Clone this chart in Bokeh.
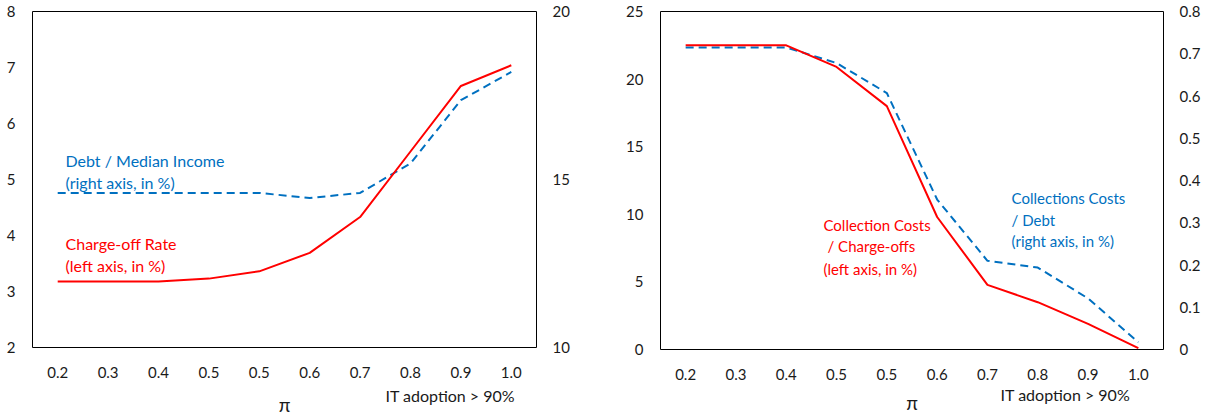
from bokeh.plotting import figure
from bokeh.layouts import row
from bokeh.models import Range1d, LinearAxis, FixedTicker, Label
from bokeh.embed import file_html
from bokeh.resources import INLINE

# ---------------- data ----------------
x_labels = ["0.2", "0.3", "0.4", "0.5", "0.5", "0.6", "0.7", "0.8", "0.9", "1.0"]

# left panel
charge_off_rate = [3.18, 3.18, 3.18, 3.23, 3.36, 3.69, 4.33, 5.50, 6.67, 7.04]      # left axis
debt_median_income = [14.6, 14.6, 14.6, 14.6, 14.6, 14.45, 14.6, 15.48, 17.36, 18.2]  # right axis
left_ticks = [2, 3, 4, 5, 6, 7, 8]
right_ticks_a = [10, 15, 20]

# right panel
coll_costs_chargeoffs = [22.5, 22.5, 22.5, 20.9, 18.0, 9.8, 4.78, 3.5, 1.9, 0.1]       # left axis
coll_costs_debt = [0.715, 0.715, 0.715, 0.678, 0.607, 0.355, 0.21, 0.194, 0.121, 0.017]  # right axis
left_ticks_b = [0, 5, 10, 15, 20, 25]
right_ticks_b = [0, 0.1, 0.2, 0.3, 0.4, 0.5, 0.6, 0.7, 0.8]
right_labels_b = ["0", "0.1", "0.2", "0.3", "0.4", "0.5", "0.6", "0.7", "0.8"]

x_title = "π"
note_text = "IT adoption > 90%"

RED = "#FF0000"
BLUE = "#0070C0"
FONT = "Lato"
TICK_COLOR = "#1a1a1a"

xs = list(range(len(x_labels)))


def base_fig(fw, fh, bl, bt, br, bb, yr):
    p = figure(frame_width=fw, frame_height=fh, min_border_left=bl, min_border_top=bt,
               min_border_right=br, min_border_bottom=bb,
               x_range=Range1d(-0.5, len(x_labels) - 0.5), y_range=yr,
               x_axis_location=None,
               output_backend="svg", toolbar_location=None, tools="")
    p.outline_line_color = "black"
    p.outline_line_width = 1
    p.xgrid.visible = False
    p.ygrid.visible = False
    p.background_fill_color = "white"
    p.border_fill_color = "white"
    return p


def style_axis(ax, standoff, size="15px"):
    ax.axis_line_color = None
    ax.major_tick_line_color = None
    ax.minor_tick_line_color = None
    ax.major_tick_out = 0
    ax.major_tick_in = 0
    ax.minor_tick_out = 0
    ax.minor_tick_in = 0
    ax.major_label_text_font = FONT
    ax.major_label_text_font_size = size
    ax.major_label_text_color = TICK_COLOR
    ax.major_label_standoff = standoff


def add_xaxes(p, note_x, note_standoff, title_standoff):
    ax = LinearAxis(ticker=FixedTicker(ticks=xs))
    ax.major_label_overrides = {i: lab for i, lab in enumerate(x_labels)}
    style_axis(ax, 19)
    p.add_layout(ax, "below")
    ax2 = LinearAxis(ticker=FixedTicker(ticks=[note_x]))
    ax2.major_label_overrides = {note_x: note_text}
    style_axis(ax2, note_standoff, size="16px")
    ax2.axis_label = x_title
    ax2.axis_label_text_font = FONT
    ax2.axis_label_text_font_style = "normal"
    ax2.axis_label_text_font_size = "19px"
    ax2.axis_label_text_color = TICK_COLOR
    ax2.axis_label_standoff = title_standoff
    p.add_layout(ax2, "below")


def add_text(p, x, y, txt, color, size="16px", align="left"):
    p.add_layout(Label(x=x, y=y, text=txt, text_color=color, text_font=FONT,
                       text_font_size=size, text_align=align, text_baseline="middle"))


# ---------------- left chart ----------------
p1 = base_fig(504, 336, 32, 11, 62, 63, Range1d(2, 8))
p1.extra_y_ranges = {"r": Range1d(10, 20)}
ax_r1 = LinearAxis(y_range_name="r", ticker=FixedTicker(ticks=right_ticks_a))
p1.add_layout(ax_r1, "right")
p1.yaxis[0].ticker = FixedTicker(ticks=left_ticks)
style_axis(p1.yaxis[0], 17)
style_axis(ax_r1, 16)
add_xaxes(p1, 7.79, 5, -15)

p1.line(xs, debt_median_income, y_range_name="r", line_color=BLUE, line_width=2,
        line_dash="8 5")
p1.line(xs, charge_off_rate, line_color=RED, line_width=2)

add_text(p1, 0.155, 5.34, "Debt / Median Income", BLUE)
add_text(p1, 0.155, 4.95, "(right axis, in %)", BLUE)
add_text(p1, 0.155, 3.85, "Charge-off Rate", RED)
add_text(p1, 0.155, 3.47, "(left axis, in %)", RED)

# ---------------- right chart ----------------
p2 = base_fig(503, 338, 62, 9, 45, 63, Range1d(0, 25))
p2.extra_y_ranges = {"r": Range1d(0, 0.8)}
ax_r2 = LinearAxis(y_range_name="r", ticker=FixedTicker(ticks=right_ticks_b))
ax_r2.major_label_overrides = {t: l for t, l in zip(right_ticks_b, right_labels_b)}
p2.add_layout(ax_r2, "right")
p2.yaxis[0].ticker = FixedTicker(ticks=left_ticks_b)
style_axis(p2.yaxis[0], 17)
style_axis(ax_r2, 16)
add_xaxes(p2, 7.55, 2, -16)

p2.line(xs, coll_costs_debt, y_range_name="r", line_color=BLUE, line_width=2,
        line_dash="8 5")
p2.line(xs, coll_costs_chargeoffs, line_color=RED, line_width=2)

add_text(p2, 2.74, 9.245, "Collection Costs", RED, size="15px")
add_text(p2, 2.82, 7.62, "/ Charge-offs", RED, size="15px")
add_text(p2, 2.74, 5.99, "(left axis, in %)", RED, size="15px")
add_text(p2, 6.48, 11.24, "Collections Costs", BLUE, size="15px")
add_text(p2, 6.48, 9.615, "/ Debt", BLUE, size="15px")
add_text(p2, 6.48, 8.06, "(right axis, in %)", BLUE, size="15px")

layout = row(p1, p2, spacing=0)
open("out.html", "w").write(file_html(layout, INLINE))
